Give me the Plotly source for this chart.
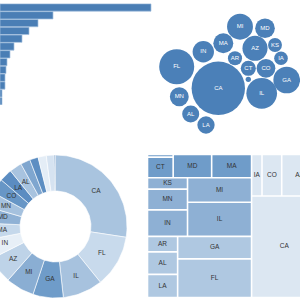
import math
import plotly.graph_objects as go

# ---------------- data ----------------
STATES = ["CA", "FL", "IL", "GA", "MI", "AZ", "IN", "MA", "MD", "MN",
          "CO", "LA", "AL", "CT", "AR", "KS", "IA", "DE"]
VALUES = [100, 43, 33, 25, 23.5, 22, 16, 14, 13.5, 12.5,
          12.3, 10.5, 10.2, 8, 7, 6.8, 6.5, 1]
REGIONS = ["West", "South", "Midwest", "South", "Midwest", "West", "Midwest",
           "Northeast", "Northeast", "Midwest", "West", "South", "South",
           "Northeast", "South", "Midwest", "West", "Northeast"]

BAR_CATEGORIES = ["c1", "c2", "c3", "c4", "c5", "c6", "c7", "c8", "c9",
                  "c10", "c11", "c12", "c13"]
BAR_VALUES = [151, 53, 38, 29, 22, 14, 10, 7, 6, 5, 5, 2, 2]

# ---------------- styles / layout params ----------------
FONT = "Liberation Sans, Arial, sans-serif"
BLUE = "#4a7eb5"
DONUT_COLORS = {"CA": "#a9c4df", "FL": "#c8daec", "IL": "#a7c2de", "GA": "#6f9cc9",
                "MI": "#8aaed3", "AZ": "#bed3e8", "IN": "#e7eff7", "MA": "#c5d8eb",
                "MD": "#8fb1d5", "MN": "#a5c1de", "CO": "#6796c6", "LA": "#5b8cc1",
                "AL": "#a8c3df", "CT": "#7fa6cf", "AR": "#5d8ec2", "KS": "#e4edf6",
                "IA": "#d6e3f1", "DE": "#4a7fb5"}
REGION_COLORS = {"Northeast": "#6f9cc9", "Midwest": "#8eb0d4",
                 "South": "#afc8e1", "West": "#dce7f2"}
# packed-bubble placement (pixel frame of the overlay axes)
PACK_POS = {"MI": (240, 26.7), "MD": (265, 28.3), "KS": (275, 45), "IA": (281, 58.3),
            "GA": (286.7, 80), "CO": (266, 68.3), "IL": (261.7, 93.3), "CT": (248.3, 68.3),
            "DE": (248.3, 79.3), "AZ": (255, 48.3), "AR": (235, 58.3), "MA": (223.3, 43.3),
            "IN": (203.3, 51.7), "FL": (176.7, 66.7), "CA": (218.3, 88.3),
            "MN": (179.3, 96.7), "AL": (190.7, 114), "LA": (206, 125)}
DONUT_C = (55.5, 226.5)
DONUT_R, DONUT_HOLE = 71.5, 35.5
TREE_BOX = (147.5, 154.5, 317.0, 297.5)
TREE_PAD = 0.8

fig = go.Figure()

# ---------------- bar chart ----------------
fig.add_trace(go.Bar(x=BAR_VALUES, y=BAR_CATEGORIES, orientation="h",
                     marker=dict(color=BLUE, line=dict(color="#a3c0de", width=0.7)),
                     xaxis="x", yaxis="y", hoverinfo="skip"))

# ---------------- donut ----------------
total = sum(VALUES)
cum = 0.0
lx, ly, lt = [], [], []
cx, cy = DONUT_C
for s, v in zip(STATES, VALUES):
    a0 = cum / total * 2 * math.pi
    a1 = (cum + v) / total * 2 * math.pi
    n = max(3, int((a1 - a0) / 0.03))
    outer = [a0 + (a1 - a0) * i / n for i in range(n + 1)]
    xs = [cx + DONUT_R * math.sin(a) for a in outer] + \
         [cx + DONUT_HOLE * math.sin(a) for a in reversed(outer)]
    ys = [cy - DONUT_R * math.cos(a) for a in outer] + \
         [cy - DONUT_HOLE * math.cos(a) for a in reversed(outer)]
    xs.append(xs[0]); ys.append(ys[0])
    fig.add_trace(go.Scatter(x=xs, y=ys, mode="lines", fill="toself",
                             fillcolor=DONUT_COLORS[s], line=dict(color="white", width=0.6),
                             xaxis="x2", yaxis="y2", hoverinfo="skip"))
    if math.degrees(a1 - a0) >= 9:
        am = (a0 + a1) / 2
        rm = (DONUT_R + DONUT_HOLE) / 2
        lx.append(cx + rm * math.sin(am)); ly.append(cy - rm * math.cos(am)); lt.append(s)
    cum += v
fig.add_trace(go.Scatter(x=lx, y=ly, text=lt, mode="text",
                         textfont=dict(size=6.5, color="#333", family=FONT),
                         xaxis="x2", yaxis="y2", hoverinfo="skip"))


# ---------------- treemap (squarified, ascending order) ----------------
def squarify(vals, x0, y0, x1, y1, ratio=(1 + 5 ** 0.5) / 2):
    rects = []
    value = sum(vals)
    i0, n = 0, len(vals)
    while i0 < n:
        dx, dy = x1 - x0, y1 - y0
        i1 = i0
        sum_v = vals[i1]; i1 += 1
        min_v = max_v = sum_v
        alpha = max(dy / dx, dx / dy) / (value * ratio)
        beta = sum_v * sum_v * alpha
        min_ratio = max(max_v / beta, beta / min_v)
        while i1 < n:
            nv = vals[i1]
            sum_v += nv
            mn, mx = min(min_v, nv), max(max_v, nv)
            beta = sum_v * sum_v * alpha
            new_ratio = max(mx / beta, beta / mn)
            if new_ratio > min_ratio:
                sum_v -= nv
                break
            min_ratio, min_v, max_v = new_ratio, mn, mx
            i1 += 1
        row = vals[i0:i1]
        if dx < dy:
            yb = y0 + dy * sum_v / value
            x = x0
            for v in row:
                w = (x1 - x0) * v / sum_v
                rects.append((x, y0, x + w, yb)); x += w
            y0 = yb
        else:
            xb = x0 + dx * sum_v / value
            y = y0
            for v in row:
                h = (y1 - y0) * v / sum_v
                rects.append((x0, y, xb, y + h)); y += h
            x0 = xb
        value -= sum_v
        i0 = i1
    return rects


groups = {}
for s, v, r in zip(STATES, VALUES, REGIONS):
    groups.setdefault(r, []).append((v, s))
gorder = sorted(groups, key=lambda g: sum(v for v, _ in groups[g]))
grects = squarify([sum(v for v, _ in groups[g]) for g in gorder], *TREE_BOX)
tx, ty, tt = [], [], []
for g, (gx0, gy0, gx1, gy1) in zip(gorder, grects):
    leaves = sorted(groups[g])
    lrects = squarify([v for v, _ in leaves], gx0, gy0, gx1, gy1)
    xs, ys = [], []
    for (v, s), (a, b, c, d) in zip(leaves, lrects):
        a, b, c, d = a + TREE_PAD, b + TREE_PAD, c - TREE_PAD, d - TREE_PAD
        xs += [a, c, c, a, a, None]
        ys += [b, b, d, d, b, None]
        if (d - b) > 6 and (c - a) > 6:
            tx.append((a + c) / 2); ty.append((b + d) / 2); tt.append(s)
    fig.add_trace(go.Scatter(x=xs, y=ys, mode="lines", fill="toself",
                             fillcolor=REGION_COLORS[g], line=dict(width=0),
                             xaxis="x2", yaxis="y2", hoverinfo="skip"))
fig.add_trace(go.Scatter(x=tx, y=ty, text=tt, mode="text",
                         textfont=dict(size=6.5, color="#333", family=FONT),
                         xaxis="x2", yaxis="y2", hoverinfo="skip"))

# ---------------- packed bubbles ----------------
bx = [PACK_POS[s][0] for s in STATES]
by = [PACK_POS[s][1] for s in STATES]
max_diam = 53.4
fig.add_trace(go.Scatter(
    x=bx, y=by, mode="markers+text",
    text=[s if v >= 5 else "" for s, v in zip(STATES, VALUES)],
    textposition="middle center",
    textfont=dict(size=6, color="white", family=FONT),
    marker=dict(size=VALUES, sizemode="area", sizeref=2 * max(VALUES) / max_diam ** 2,
                color="#4b80b8", line=dict(width=0), opacity=1),
    xaxis="x2", yaxis="y2", hoverinfo="skip"))

fig.update_layout(
    width=300, height=300, margin=dict(l=0, r=0, t=0, b=0),
    paper_bgcolor="white", plot_bgcolor="rgba(0,0,0,0)",
    showlegend=False, bargap=0.06,
    font=dict(family=FONT),
    xaxis=dict(domain=[0, 152 / 300], range=[0, 152], visible=False, anchor="y"),
    yaxis=dict(domain=[1 - 105 / 300, 1 - 3.6 / 300], range=[12.5, -0.5],
               type="category", visible=False, anchor="x"),
    xaxis2=dict(domain=[0, 1], range=[0, 300], visible=False, anchor="y2"),
    yaxis2=dict(domain=[0, 1], range=[300, 0], visible=False, anchor="x2"),
)
fig.write_html("out.html")
